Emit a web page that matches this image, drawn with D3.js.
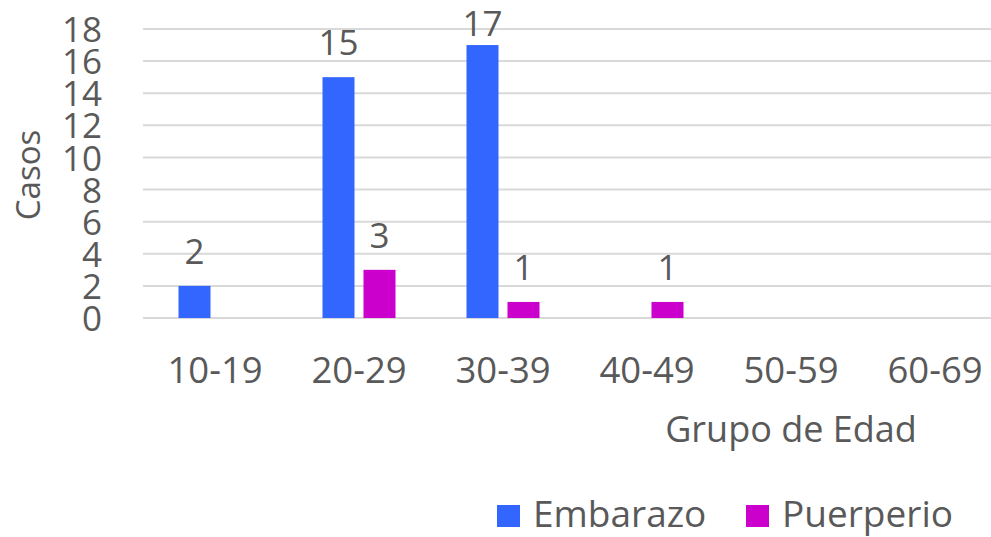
<!DOCTYPE html>
<html>
<head>
<meta charset="utf-8">
<script src="https://cdn.jsdelivr.net/npm/d3@7"></script>
<style>
  html, body { margin: 0; padding: 0; background: #fff; }
  svg text { font-family: "Open Sans", sans-serif; fill: #595959; }
</style>
</head>
<body>
<svg id="chart" width="991" height="537"></svg>
<script>
// data (blank cells are null: no bar, no label)
const categories = ['10-19', '20-29', '30-39', '40-49', '50-59', '60-69'];
const seriesNames = ['Embarazo', 'Puerperio'];
const embarazo = [2, 15, 17, null, null, null];
const puerperio = [null, 3, 1, 1, null, null];
const yTicks = [0, 2, 4, 6, 8, 10, 12, 14, 16, 18];

const colour = d3.scaleOrdinal()
  .domain(seriesNames)
  .range(['#3366FF', '#CC00CC']);

const svg = d3.select('#chart');

// plot area (runs past the right edge, the reference is cropped there)
const dim = {left: 143, top: 29, bottom: 318, right: 1007};

const x0 = d3.scaleBand()
  .domain(categories)
  .range([dim.left, dim.right]);

const x1 = d3.scaleBand()
  .domain(seriesNames)
  .range([35.5, 108.5])
  .paddingInner(0.2195);

const y = d3.scaleLinear()
  .domain([0, 18])
  .range([dim.bottom, dim.top]);

// gridlines
svg.append('g')
  .attr('class', 'grid')
  .selectAll('line')
  .data(yTicks)
  .enter().append('line')
    .attr('x1', dim.left)
    .attr('x2', dim.right)
    .attr('y1', d => y(d))
    .attr('y2', d => y(d))
    .attr('stroke', '#D9D9D9')
    .attr('stroke-width', 2);

// y axis labels
const yAxis = d3.axisLeft(y).tickValues(yTicks).tickSize(0).tickPadding(0);
const yAxisGroup = svg.append('g')
  .attr('transform', 'translate(102,0)')
  .call(yAxis);
yAxisGroup.select('.domain').remove();
yAxisGroup.selectAll('text')
  .attr('fill', '#595959')
  .style('font-family', '"Open Sans", sans-serif')
  .style('font-size', '35px')
  .attr('dy', '0.36em');

// x axis labels
const xAxis = d3.axisBottom(x0).tickSize(0).tickPadding(0);
const xAxisGroup = svg.append('g')
  .attr('transform', 'translate(0,383)')
  .call(xAxis);
xAxisGroup.select('.domain').remove();
xAxisGroup.selectAll('text')
  .attr('fill', '#595959')
  .style('font-family', '"Open Sans", sans-serif')
  .style('font-size', '36.5px')
  .attr('dy', 0);

// rows of the table for grouping
const rows = categories.map((c, i) => ({
  cat: c,
  values: [
    {name: 'Embarazo', value: embarazo[i]},
    {name: 'Puerperio', value: puerperio[i]}
  ].filter(v => v.value != null)
}));

const groups = svg.append('g')
  .attr('class', 'data-area')
  .selectAll('g')
  .data(rows)
  .enter().append('g')
    .attr('transform', d => `translate(${x0(d.cat)},0)`);

groups.selectAll('rect')
  .data(d => d.values)
  .enter().append('rect')
    .attr('x', d => x1(d.name))
    .attr('width', x1.bandwidth())
    .attr('y', d => y(d.value))
    .attr('height', d => y(0) - y(d.value))
    .attr('fill', d => colour(d.name));

// data labels, kept inside the chart at the top
groups.selectAll('text')
  .data(d => d.values)
  .enter().append('text')
    .attr('x', d => x1(d.name) + x1.bandwidth() / 2)
    .attr('y', d => Math.max(y(d.value) - 22, 36))
    .attr('text-anchor', 'middle')
    .style('font-size', '35px')
    .text(d => d.value);

// axis titles
svg.append('text')
  .attr('transform', 'translate(40,175) rotate(-90)')
  .attr('text-anchor', 'middle')
  .style('font-size', '33px')
  .text('Casos');

svg.append('text')
  .attr('x', 791)
  .attr('y', 442)
  .attr('text-anchor', 'middle')
  .style('font-size', '36px')
  .text('Grupo de Edad');

// legend
const legend = svg.append('g')
  .attr('class', 'legend')
  .attr('transform', 'translate(497,505)');

const legendItems = legend.selectAll('g')
  .data(seriesNames)
  .enter().append('g')
    .attr('transform', (d, i) => `translate(${i * 249},0)`);

legendItems.append('rect')
  .attr('width', 23)
  .attr('height', 22)
  .attr('fill', d => colour(d));

legendItems.append('text')
  .attr('x', 36)
  .attr('y', 22)
  .style('font-size', '37px')
  .text(d => d);
</script>
</body>
</html>
